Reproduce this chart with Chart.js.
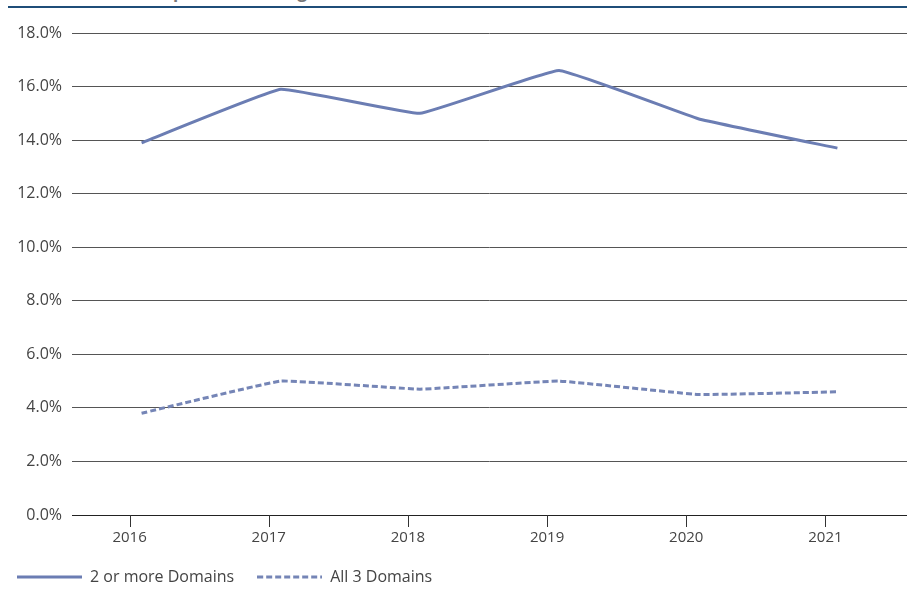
<!DOCTYPE html>
<html>
<head>
<meta charset="utf-8">
<script src="https://cdn.jsdelivr.net/npm/chart.js@4.4.0/dist/chart.umd.min.js"></script>
<style>
  body { margin: 0; background: #fff; }
  #wrap { position: relative; width: 907px; height: 595px; overflow: hidden; }
  #title { position: absolute; left: 128px; top: -20px; font: bold 17px "Open Sans", sans-serif; color: #777; white-space: nowrap; }
  #rule { position: absolute; left: 8px; right: 0; top: 6px; height: 2px; background: #1f4e79; }
  canvas { position: absolute; left: 0; top: 0; }
</style>
</head>
<body>
<div id="wrap">
  <div id="title">Multiple disadvantage, 2016–2021</div>
  <div id="rule"></div>
  <canvas id="chart" width="907" height="595"></canvas>
</div>
<script>
const years = ["2016", "2017", "2018", "2019", "2020", "2021"];
const twoOrMoreDomains = [13.9, 15.9, 15.0, 16.6, 14.8, 13.7];
const allThreeDomains = [3.8, 5.0, 4.7, 5.0, 4.5, 4.6];
const yMin = 0;
const yMax = 18;
const yStep = 2;

const solidColor = "#6b7db3";
const dashColor = "#7585b6";

/* small line samples for the legend */
function legendLine(color, dash) {
    const c = document.createElement("canvas");
    c.width = 65;
    c.height = 4;
    const g = c.getContext("2d");
    g.strokeStyle = color;
    g.lineWidth = 3;
    g.setLineDash(dash);
    g.beginPath();
    g.moveTo(0, 2);
    g.lineTo(65, 2);
    g.stroke();
    return c;
}

/* tick marks sit a little left of the points, as in the source */
const shiftedTicks = {
    id: "shiftedTicks",
    afterDraw(chart) {
        const x = chart.scales.x;
        const ctx = chart.ctx;
        ctx.save();
        ctx.strokeStyle = "#333";
        ctx.lineWidth = 1;
        x.ticks.forEach((t, i) => {
            const px = Math.round(x.getPixelForTick(i) - 12) + 0.5;
            ctx.beginPath();
            ctx.moveTo(px, x.top);
            ctx.lineTo(px, x.top + 12);
            ctx.stroke();
        });
        ctx.restore();
    },
};

const ctx = document.getElementById("chart").getContext("2d");
new Chart(ctx, {
    type: "line",
    data: {
        labels: years,
        datasets: [
            {
                label: "2 or more Domains",
                data: twoOrMoreDomains,
                borderColor: solidColor,
                backgroundColor: solidColor,
                borderWidth: 3,
                pointRadius: 0,
                pointStyle: legendLine(solidColor, []),
                tension: 0.08,
            },
            {
                label: "All 3 Domains",
                data: allThreeDomains,
                borderColor: dashColor,
                backgroundColor: dashColor,
                borderWidth: 3,
                borderDash: [6, 3],
                pointRadius: 0,
                pointStyle: legendLine(dashColor, [6, 3]),
                tension: 0.08,
            },
        ],
    },
    options: {
        responsive: false,
        animation: false,
        layout: { padding: { top: 33, left: -6, right: 0, bottom: 0 } },
        scales: {
            x: {
                offset: true,
                grid: { drawOnChartArea: false, drawTicks: false },
                border: { display: true, color: "#222", width: 1 },
                ticks: {
                    color: "#444",
                    font: { family: "Open Sans", size: 15 },
                    padding: 14,
                    labelOffset: -12,
                    maxRotation: 0,
                },
                afterFit(scale) { scale.height = 31; },
            },
            y: {
                min: yMin,
                max: yMax,
                grid: { color: "#555", drawTicks: false },
                border: { display: false },
                ticks: {
                    stepSize: yStep,
                    color: "#444",
                    font: { family: "Open Sans", size: 16 },
                    padding: 10,
                    callback: (v) => v.toFixed(1) + "%",
                },
                afterFit(scale) { scale.width = 78; },
            },
        },
        plugins: {
            legend: {
                position: "bottom",
                align: "start",
                labels: {
                    usePointStyle: true,
                    pointStyleWidth: 65,
                    color: "#444",
                    font: { family: "Open Sans", size: 16 },
                    padding: 23,
                },
            },
            tooltip: { enabled: false },
        },
    },
    plugins: [shiftedTicks],
});
</script>
</body>
</html>
